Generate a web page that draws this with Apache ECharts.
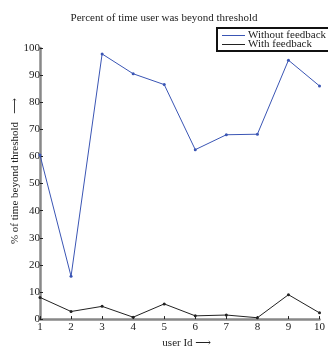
<!DOCTYPE html>
<html>
<head>
<meta charset="utf-8">
<script src="https://cdn.jsdelivr.net/npm/echarts@6/dist/echarts.min.js"></script>
<style>
  html, body { margin: 0; padding: 0; background: #fff; }
  #chart { width: 328px; height: 354px; }
</style>
</head>
<body>
<div id="chart"></div>
<script>
// user ids on the x axis
const userIds = [1, 2, 3, 4, 5, 6, 7, 8, 9, 10];
// percent of time beyond threshold, per user
const withoutFeedback = [60.5, 15.8, 97.8, 90.5, 86.5, 62.5, 68.0, 68.2, 95.5, 86.0];
const withFeedback = [8.0, 2.8, 4.7, 0.7, 5.6, 1.2, 1.5, 0.5, 9.0, 2.3];
const yTicks = [0, 10, 20, 30, 40, 50, 60, 70, 80, 90, 100];

const serif = '"Liberation Serif", "DejaVu Serif", serif';

const chart = echarts.init(document.getElementById('chart'), null, { renderer: 'canvas' });

const pairs = arr => userIds.map((id, i) => [id, arr[i]]);

chart.setOption({
  animation: false,
  title: {
    text: 'Percent of time user was beyond threshold',
    left: 159,
    textAlign: 'center',
    top: 8,
    textStyle: { fontFamily: serif, fontSize: 11, fontWeight: 'normal', color: '#222' }
  },
  legend: {
    orient: 'vertical',
    left: 217,
    top: 28,
    itemWidth: 23,
    itemHeight: 1,
    itemGap: -2,
    padding: [2, 10, 1, 5],
    borderColor: '#111',
    borderWidth: 2,
    icon: 'rect',
    textStyle: { fontFamily: serif, fontSize: 11, lineHeight: 9, color: '#222', padding: [0, 0, 0, -2] },
    data: ['Without feedback', 'With feedback']
  },
  graphic: [
    {
      type: 'text',
      x: 15,
      y: 171,
      rotation: Math.PI / 2,
      style: {
        text: '% of time beyond threshold   ⟶',
        font: '11px ' + serif,
        fill: '#222',
        align: 'center',
        verticalAlign: 'middle'
      }
    }
  ],
  grid: { left: 40, right: 6, top: 48, bottom: 21, containLabel: false },
  xAxis: {
    type: 'value',
    min: 1,
    max: 10,
    interval: 1,
    name: 'user Id ⟶',
    nameLocation: 'middle',
    nameGap: 17,
    nameTextStyle: { fontFamily: serif, fontSize: 11, color: '#222', padding: [0, 0, 0, 14] },
    axisLine: { show: true, onZero: false, lineStyle: { color: '#888', width: 2.5 } },
    axisTick: { show: true, inside: true, length: 3, lineStyle: { color: '#222', width: 1 } },
    axisLabel: { fontFamily: serif, fontSize: 11, color: '#222', margin: 3 },
    splitLine: { show: false }
  },
  yAxis: {
    type: 'value',
    min: 0,
    max: 100,
    interval: 10,
    axisLine: { show: true, onZero: false, lineStyle: { color: '#888', width: 2.5 } },
    axisTick: { show: true, inside: true, length: 3, lineStyle: { color: '#222', width: 1 } },
    axisLabel: {
      fontFamily: serif, fontSize: 11, color: '#222', margin: 0,
      formatter: v => (yTicks.includes(v) ? String(v) : '')
    },
    splitLine: { show: false }
  },
  series: [
    {
      name: 'Without feedback',
      type: 'line',
      data: pairs(withoutFeedback),
      symbol: 'circle',
      symbolSize: 3,
      itemStyle: { color: '#3a55b4' },
      lineStyle: { color: '#3a55b4', width: 1 }
    },
    {
      name: 'With feedback',
      type: 'line',
      data: pairs(withFeedback),
      symbol: 'circle',
      symbolSize: 3,
      itemStyle: { color: '#222' },
      lineStyle: { color: '#222', width: 1 }
    }
  ]
});
</script>
</body>
</html>
